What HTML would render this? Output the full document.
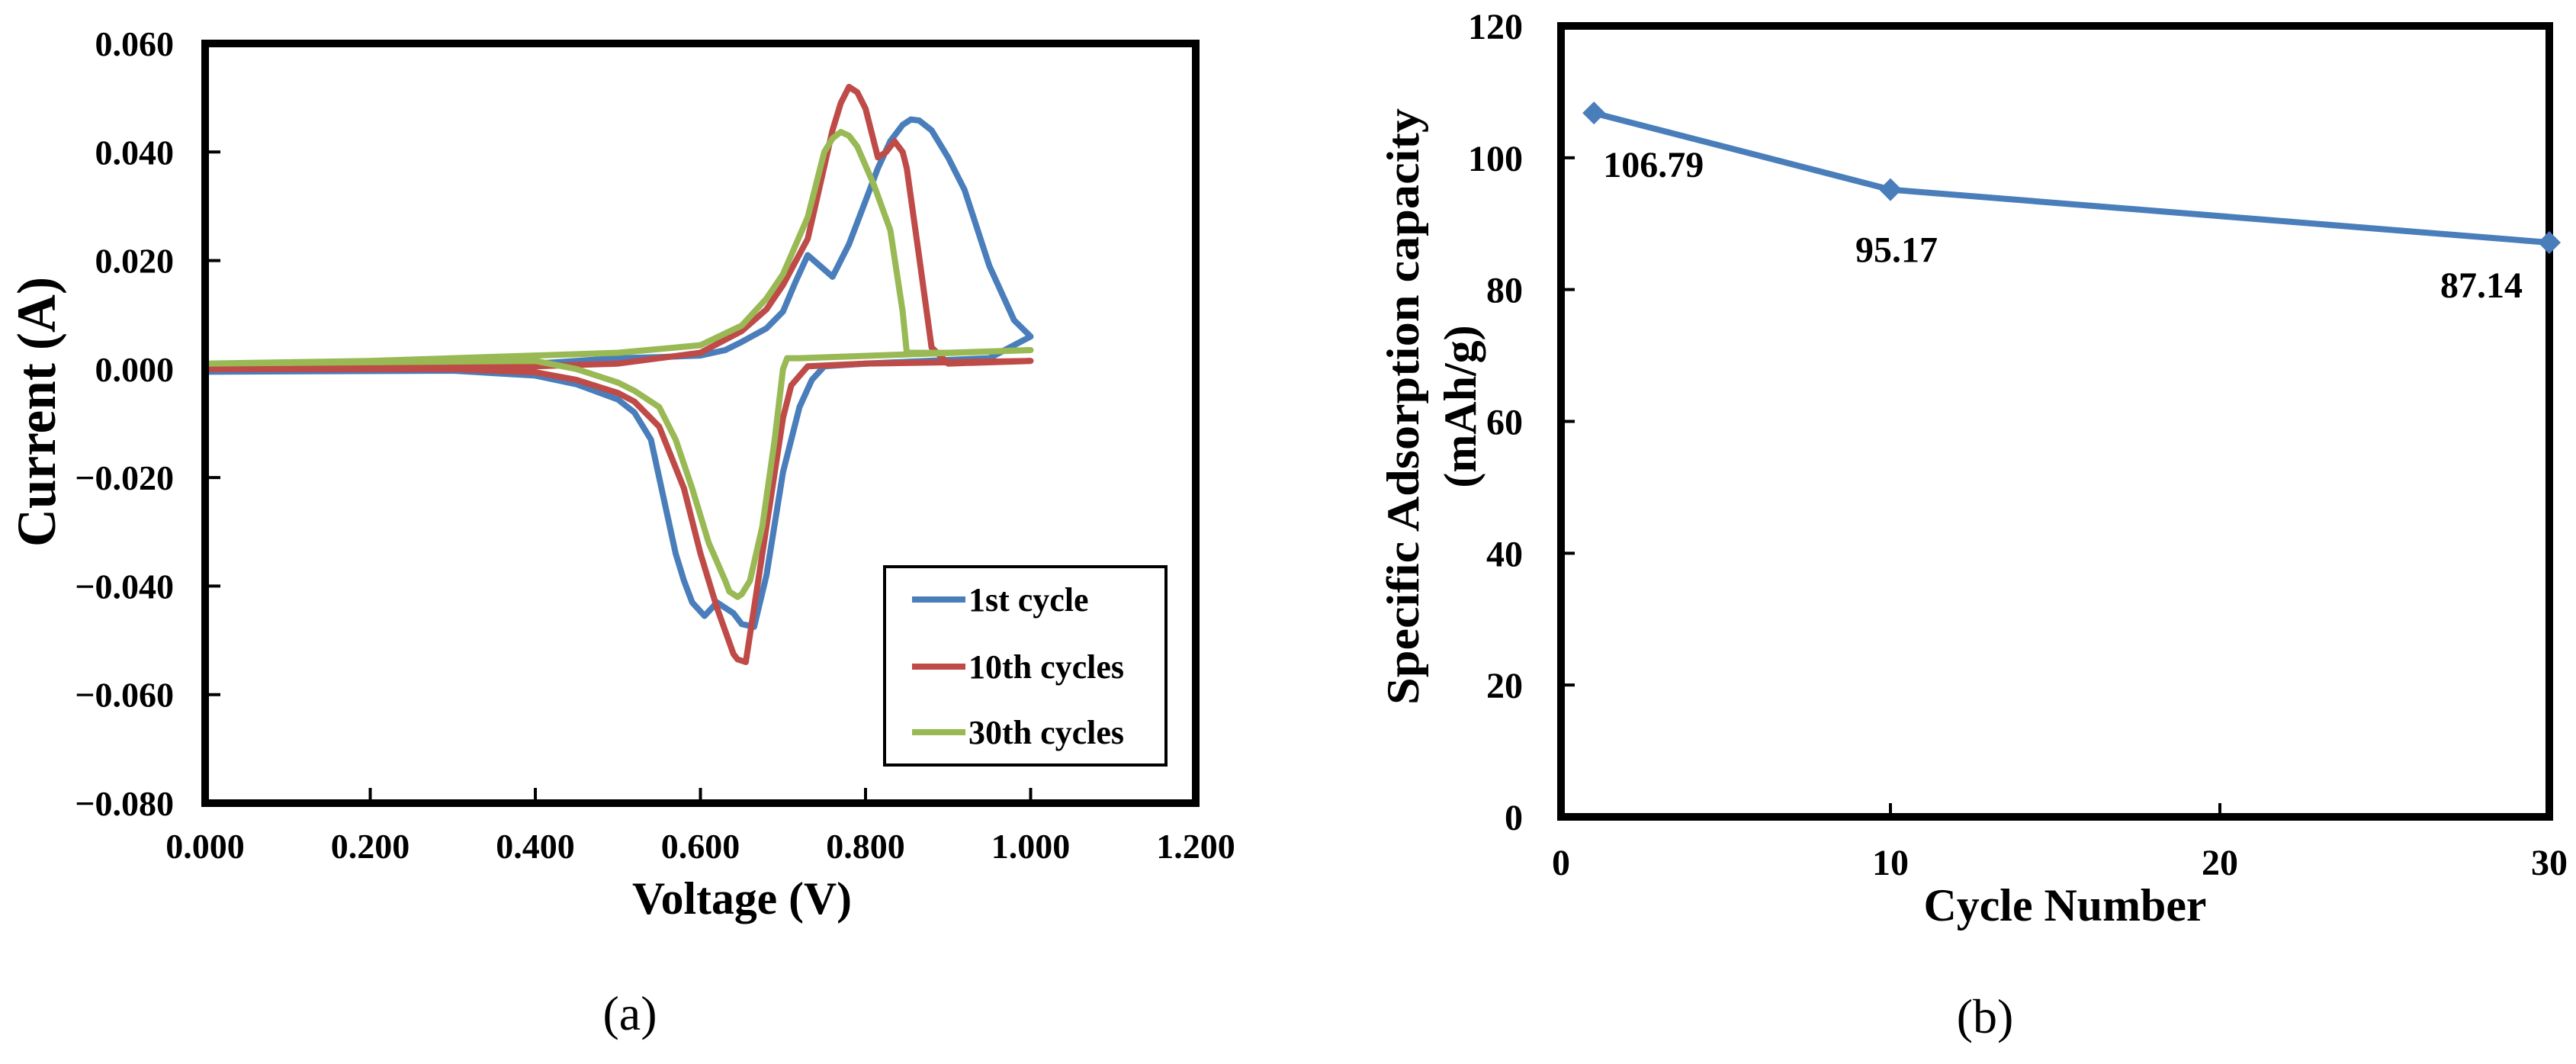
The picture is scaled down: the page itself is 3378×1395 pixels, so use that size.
<!DOCTYPE html>
<html><head><meta charset="utf-8"><style>
html,body{margin:0;padding:0;background:#fff;}
svg{display:block;font-family:"Liberation Serif",serif;font-weight:bold;}
</style></head><body>
<svg id="fig" width="3378" height="1395" viewBox="0 0 3378 1395" xmlns="http://www.w3.org/2000/svg">
<g id="pa"></g>
<g id="pb"></g>
</svg>
<script>
// ---------- Panel (a) data ----------
const aXTicks = [0, 0.2, 0.4, 0.6, 0.8, 1.0, 1.2];
const aXTickLabels = ["0.000","0.200","0.400","0.600","0.800","1.000","1.200"];
const aYTicks = [0.06, 0.04, 0.02, 0, -0.02, -0.04, -0.06, -0.08];
const aYTickLabels = ["0.060","0.040","0.020","0.000","\u22120.020","\u22120.040","\u22120.060","\u22120.080"];
const seriesNames = ["1st cycle","10th cycles","30th cycles"];
// voltage / current pairs, forward then reverse scan
const c1V = [0,0.2,0.4,0.5,0.55,0.6,0.63,0.65,0.68,0.7,0.715,0.73,0.745,0.76,0.78,0.8,0.815,0.83,0.845,0.855,0.865,0.88,0.9,0.92,0.95,0.98,1.0,0.95,0.8,0.75,0.735,0.72,0.7,0.68,0.665,0.65,0.64,0.62,0.605,0.59,0.58,0.57,0.56,0.55,0.54,0.52,0.5,0.45,0.4,0.3,0];
const c1I = [-0.0005,0,0.001,0.002,0.0022,0.0025,0.0035,0.005,0.0075,0.0106,0.016,0.021,0.019,0.017,0.023,0.031,0.037,0.042,0.045,0.046,0.0458,0.044,0.039,0.033,0.019,0.009,0.006,0.002,0.001,0.0005,-0.002,-0.007,-0.019,-0.038,-0.0475,-0.047,-0.045,-0.043,-0.0455,-0.043,-0.039,-0.034,-0.027,-0.02,-0.013,-0.008,-0.0056,-0.0028,-0.0012,-0.0003,-0.0005];
const c10V = [0,0.4,0.5,0.6,0.65,0.68,0.7,0.73,0.745,0.76,0.77,0.78,0.79,0.8,0.815,0.825,0.835,0.845,0.85,0.865,0.88,0.9,1.0,0.8,0.73,0.71,0.7,0.68,0.665,0.655,0.645,0.64,0.62,0.6,0.58,0.55,0.52,0.5,0.45,0.4,0.3,0];
const c10I = [0,0.0005,0.001,0.003,0.007,0.011,0.0155,0.024,0.034,0.044,0.049,0.052,0.051,0.048,0.039,0.04,0.042,0.04,0.037,0.0206,0.004,0.001,0.0015,0.001,0.0005,-0.003,-0.009,-0.029,-0.044,-0.054,-0.0535,-0.0525,-0.044,-0.034,-0.022,-0.0106,-0.006,-0.0044,-0.002,-0.0006,0,0];
const c30V = [0,0.2,0.4,0.5,0.6,0.65,0.68,0.7,0.73,0.75,0.76,0.77,0.78,0.79,0.81,0.83,0.845,0.85,0.9,1.0,0.72,0.705,0.7,0.69,0.675,0.66,0.65,0.645,0.635,0.63,0.61,0.59,0.57,0.55,0.52,0.5,0.45,0.4,0];
const c30I = [0.001,0.0015,0.0025,0.003,0.0044,0.008,0.013,0.0175,0.028,0.04,0.0425,0.0437,0.043,0.041,0.034,0.0256,0.0106,0.003,0.003,0.0035,0.002,0.002,0,-0.013,-0.029,-0.039,-0.0415,-0.042,-0.041,-0.039,-0.032,-0.022,-0.013,-0.007,-0.004,-0.0025,0,0.0015,0.001];

// ---------- Panel (b) data ----------
const bCycles = [1, 10, 30];
const bCapacity = [106.79, 95.17, 87.14];
const bValueLabels = ["106.79","95.17","87.14"];
const bXTicks = [0, 10, 20, 30];
const bYTicks = [0, 20, 40, 60, 80, 100, 120];

const NS = "http://www.w3.org/2000/svg";
function mk(parent, tag, attrs, text){
  const e = document.createElementNS(NS, tag);
  for (const k in attrs) e.setAttribute(k, attrs[k]);
  if (text !== undefined) e.textContent = text;
  parent.appendChild(e);
  return e;
}

// ---- Panel a ----
const pa = document.getElementById('pa');
const aL = 269, aR = 1568, aT = 57, aB = 1053;
const ax = v => aL + (v - 0) / 1.2 * (aR - aL);
const ay = i => aT + (0.06 - i) / 0.14 * (aB - aT);

aXTicks.forEach((t, k) => {
  const tk = mk(pa, 'line', {x1: ax(t), x2: ax(t), y1: aB, y2: aB - 20, stroke: '#000', 'stroke-width': 4});
  
  
  const lb = mk(pa, 'text', {x: ax(t), y: 1125, 'font-size': 46, 'text-anchor': 'middle'}, aXTickLabels[k]);
  
  
});
aYTicks.forEach((t, k) => {
  const tk = mk(pa, 'line', {x1: aL, x2: aL + 20, y1: ay(t), y2: ay(t), stroke: '#000', 'stroke-width': 4});
  
  
  const lb = mk(pa, 'text', {x: 228, y: ay(t) + 16, 'font-size': 46, 'text-anchor': 'end'}, aYTickLabels[k]);
  
  
});

const colors = ['#4a7ebb', '#be4b48', '#98b954'];
[[c1V, c1I], [c10V, c10I], [c30V, c30I]].forEach((s, k) => {
  const d = s[0].map((v, j) => (j ? 'L' : 'M') + ax(v).toFixed(1) + ',' + ay(s[1][j]).toFixed(1)).join(' ');
  const p = mk(pa, 'path', {d: d, fill: 'none', stroke: colors[k], 'stroke-width': 8, 'stroke-linejoin': 'round', 'stroke-linecap': 'round'});
  
  
});

const frameA = mk(pa, 'rect', {x: aL, y: aT, width: aR - aL, height: aB - aT, fill: 'none', stroke: '#000', 'stroke-width': 10});



const legend = mk(pa, 'g', {});


mk(legend, 'rect', {x: 1160, y: 743, width: 369, height: 260, fill: '#fff', stroke: '#000', 'stroke-width': 4});
[786, 874, 960].forEach((yy, k) => {
  const g = mk(legend, 'g', {});
  
  
  mk(g, 'line', {x1: 1196, x2: 1266, y1: yy, y2: yy, stroke: colors[k], 'stroke-width': 8});
  mk(g, 'text', {x: 1270, y: yy + 15, 'font-size': 44}, seriesNames[k]);
});

const yTitleA = mk(pa, 'text', {x: 0, y: 0, 'font-size': 72, 'text-anchor': 'middle', transform: 'translate(72,540) rotate(-90)', textLength: 354, lengthAdjust: 'spacingAndGlyphs'}, 'Current (A)');


const xTitleA = mk(pa, 'text', {x: 973, y: 1198, 'font-size': 60, 'text-anchor': 'middle', textLength: 288, lengthAdjust: 'spacingAndGlyphs'}, 'Voltage (V)');


const capA = mk(pa, 'text', {x: 826, y: 1350, 'font-size': 64, 'font-weight': 'normal', 'text-anchor': 'middle'}, '(a)');



// ---- Panel b ----
const pb = document.getElementById('pb');
const bL = 2047, bR = 3343, bT = 34, bB = 1071;
const bx = c => bL + c / 30 * (bR - bL);
const by = v => bB - v / 120 * (bB - bT);

bYTicks.forEach(t => {
  const tk = mk(pb, 'line', {x1: bL, x2: bL + 18, y1: by(t), y2: by(t), stroke: '#000', 'stroke-width': 4});
  
  
  const lb = mk(pb, 'text', {x: 1997, y: by(t) + 17, 'font-size': 48, 'text-anchor': 'end'}, String(t));
  
  
});
bXTicks.forEach(t => {
  const tk = mk(pb, 'line', {x1: bx(t), x2: bx(t), y1: bB, y2: bB - 18, stroke: '#000', 'stroke-width': 4});
  
  
  const lb = mk(pb, 'text', {x: bx(t), y: 1147, 'font-size': 48, 'text-anchor': 'middle'}, String(t));
  
  
});

const bd = bCycles.map((c, j) => (j ? 'L' : 'M') + bx(c).toFixed(1) + ',' + by(bCapacity[j]).toFixed(1)).join(' ');
const bLine = mk(pb, 'path', {d: bd, fill: 'none', stroke: '#4a7ebb', 'stroke-width': 8, 'stroke-linejoin': 'round'});



const frameB = mk(pb, 'rect', {x: bL, y: bT, width: bR - bL, height: bB - bT, fill: 'none', stroke: '#000', 'stroke-width': 10});



const labelOffsets = [[12, 84], [-46, 95], [-143, 72]];
bCycles.forEach((c, j) => {
  const X = bx(c), Y = by(bCapacity[j]);
  const m = mk(pb, 'path', {d: `M${X-15},${Y} L${X},${Y-15} L${X+15},${Y} L${X},${Y+15} Z`, fill: '#4a7ebb'});
  
  
  const lb = mk(pb, 'text', {x: X + labelOffsets[j][0], y: Y + labelOffsets[j][1], 'font-size': 48}, bValueLabels[j]);
  
  
});

const yTitleB = mk(pb, 'text', {x: 0, y: 0, 'font-size': 60, 'text-anchor': 'middle', transform: 'translate(1860,533) rotate(-90)', textLength: 782, lengthAdjust: 'spacingAndGlyphs'}, 'Specific Adsorption capacity');


const yTitleB2 = mk(pb, 'text', {x: 0, y: 0, 'font-size': 60, 'text-anchor': 'middle', transform: 'translate(1935,533) rotate(-90)'}, '(mAh/g)');


const xTitleB = mk(pb, 'text', {x: 2708, y: 1207, 'font-size': 60, 'text-anchor': 'middle', textLength: 371, lengthAdjust: 'spacingAndGlyphs'}, 'Cycle Number');


const capB = mk(pb, 'text', {x: 2603, y: 1354, 'font-size': 64, 'font-weight': 'normal', 'text-anchor': 'middle'}, '(b)');


</script>
</body></html>
